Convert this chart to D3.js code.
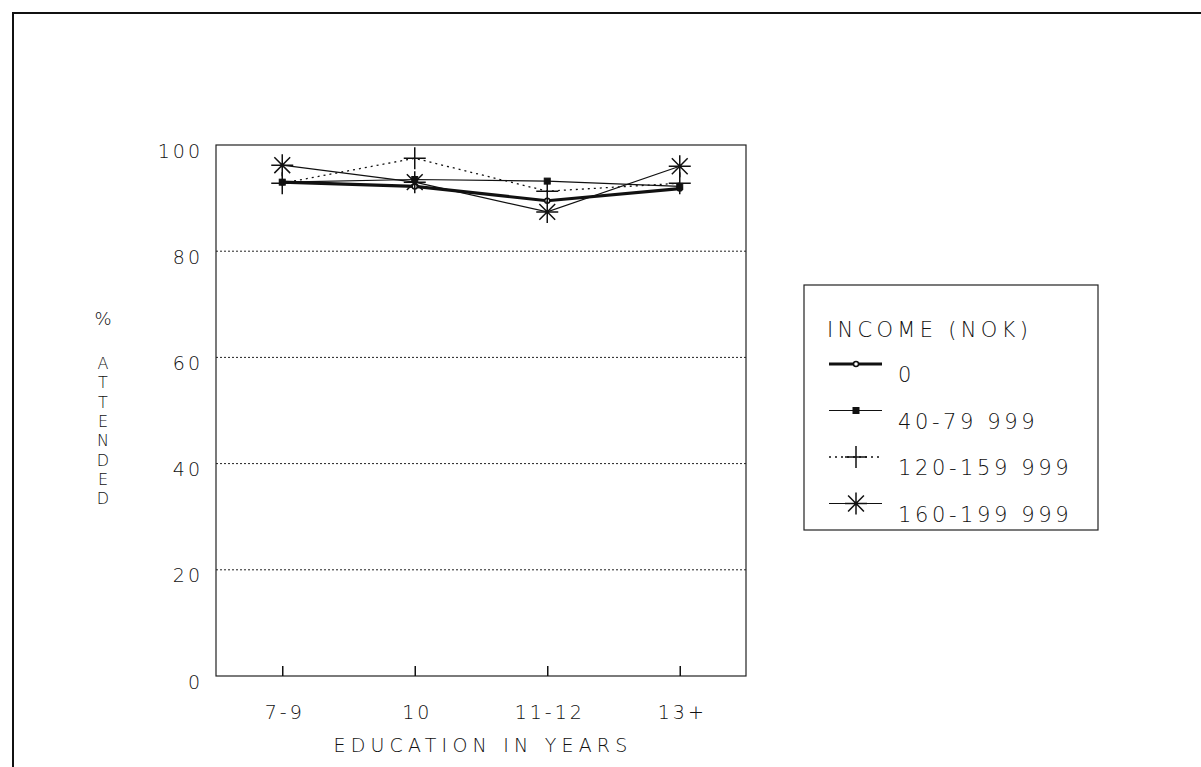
<!DOCTYPE html>
<html>
<head>
<meta charset="utf-8">
<script src="https://cdn.jsdelivr.net/npm/d3@7"></script>
<style>
  html, body { margin: 0; padding: 0; background: #fff; }
  svg { display: block; }
  text { font-family: "DejaVu Sans", sans-serif; font-weight: 200; fill: #111; }
</style>
</head>
<body>
<svg id="chart" width="1201" height="767"></svg>
<script>
// Education categories (x axis)
const categories = ["7-9", "10", "11-12", "13+"];
// Income groups (legend)
const incomeGroups = ["0", "40-79 999", "120-159 999", "160-199 999"];
// % attended per education category, one array per income group
const attendIncome0 = [93.0, 92.2, 89.5, 91.8];
const attendIncome40 = [93.0, 93.5, 93.2, 92.2];
const attendIncome120 = [92.8, 97.5, 91.3, 92.8];
const attendIncome160 = [96.2, 93.0, 87.4, 96.0];
// Y axis ticks
const yTicks = [0, 20, 40, 60, 80, 100];
const gridTicks = [20, 40, 60, 80];

const seriesValues = [attendIncome0, attendIncome40, attendIncome120, attendIncome160];

const svg = d3.select("#chart");
const plot = { left: 216, right: 746, top: 145, bottom: 676 };

const x = d3.scalePoint().domain(categories).range([plot.left, plot.right]).padding(0.5);
const y = d3.scaleLinear().domain([0, 100]).range([plot.bottom, plot.top]);

// Outer frame (top and left edges)
svg.append("path")
  .attr("d", "M13,767 L13,13 L1201,13")
  .attr("fill", "none").attr("stroke", "#111").attr("stroke-width", 2);

// Dotted gridlines
svg.append("g").selectAll("line").data(gridTicks).join("line")
  .attr("x1", plot.left).attr("x2", plot.right)
  .attr("y1", d => y(d)).attr("y2", d => y(d))
  .attr("stroke", "#222").attr("stroke-width", 1).attr("stroke-dasharray", "2,2");

// Plot frame
svg.append("rect")
  .attr("x", plot.left).attr("y", plot.top)
  .attr("width", plot.right - plot.left).attr("height", plot.bottom - plot.top)
  .attr("fill", "none").attr("stroke", "#222").attr("stroke-width", 1.2);

// Y axis
const yAxis = svg.append("g").attr("transform", `translate(${plot.left},0)`)
  .call(d3.axisLeft(y).tickValues(yTicks).tickSize(0).tickPadding(13));
yAxis.select(".domain").remove();
yAxis.selectAll("text")
  .attr("y", 6)
  .style("font-size", "19px").style("letter-spacing", "3px")
  .style("font-family", "'DejaVu Sans', sans-serif").style("font-weight", 200);

// X axis with inward ticks
const xAxis = svg.append("g").attr("transform", `translate(0,${plot.bottom})`)
  .call(d3.axisBottom(x).tickSizeInner(-10).tickSizeOuter(0).tickPadding(30));
xAxis.select(".domain").remove();
xAxis.selectAll("line").attr("stroke", "#111").attr("stroke-width", 1.5);
xAxis.selectAll("text")
  .attr("x", 2)
  .style("font-size", "19px").style("letter-spacing", "3px")
  .style("font-family", "'DejaVu Sans', sans-serif").style("font-weight", 200);

// Axis titles
svg.append("text")
  .attr("x", (plot.left + plot.right) / 2 + 2).attr("y", 752)
  .attr("text-anchor", "middle")
  .style("font-size", "19px").style("letter-spacing", "5.2px")
  .text("EDUCATION IN YEARS");

svg.append("text")
  .attr("x", 103).attr("y", 325).attr("text-anchor", "middle")
  .style("font-size", "18px").text("%");
svg.append("g").selectAll("text").data("ATTENDED".split("")).join("text")
  .attr("x", 103).attr("y", (d, i) => 369 + i * 19.3)
  .attr("text-anchor", "middle")
  .style("font-size", "16px")
  .text(d => d);

// Marker drawing helpers
function drawMarker(g, type, cx, cy) {
  if (type === "circle") {
    g.append("circle").attr("cx", cx).attr("cy", cy).attr("r", 2.5)
      .attr("fill", "#fff").attr("stroke", "#111").attr("stroke-width", 1.5);
  } else if (type === "square") {
    g.append("rect").attr("x", cx - 3).attr("y", cy - 3).attr("width", 6).attr("height", 6)
      .attr("fill", "#111").attr("stroke", "#111").attr("stroke-width", 1);
  } else if (type === "plus") {
    const r = 11;
    g.append("path").attr("d", `M${cx - r},${cy}H${cx + r}M${cx},${cy - r}V${cy + r}`)
      .attr("stroke", "#111").attr("stroke-width", 1.5).attr("fill", "none");
  } else if (type === "star") {
    const r = 11, dd = r * 0.72;
    g.append("path").attr("d",
      `M${cx - r},${cy}H${cx + r}M${cx},${cy - r}V${cy + r}` +
      `M${cx - dd},${cy - dd}L${cx + dd},${cy + dd}M${cx - dd},${cy + dd}L${cx + dd},${cy - dd}`)
      .attr("stroke", "#111").attr("stroke-width", 1.5).attr("fill", "none");
  }
}

const styles = [
  { width: 3.2, dash: null, marker: "circle" },
  { width: 1.2, dash: null, marker: "square" },
  { width: 1.3, dash: "2,4", marker: "plus" },
  { width: 1.2, dash: null, marker: "star" }
];

const line = d3.line().x((d, i) => x(categories[i])).y(d => y(d));

// Series lines and markers
seriesValues.forEach((vals, s) => {
  const st = styles[s];
  const g = svg.append("g");
  g.append("path").datum(vals).attr("d", line)
    .attr("fill", "none").attr("stroke", "#111")
    .attr("stroke-width", st.width)
    .attr("stroke-dasharray", st.dash);
  vals.forEach((v, i) => drawMarker(g, st.marker, x(categories[i]), y(v)));
});

// Legend
const legend = svg.append("g");
legend.append("rect")
  .attr("x", 804).attr("y", 285).attr("width", 294).attr("height", 245)
  .attr("fill", "none").attr("stroke", "#222").attr("stroke-width", 1.2);
legend.append("text").attr("x", 827).attr("y", 337)
  .style("font-size", "21px").style("letter-spacing", "4.3px")
  .text("INCOME (NOK)");
incomeGroups.forEach((name, i) => {
  const ly = 364 + i * 46.5;
  const st = styles[i];
  legend.append("line").attr("x1", 829).attr("x2", 882).attr("y1", ly).attr("y2", ly)
    .attr("stroke", "#111").attr("stroke-width", st.width).attr("stroke-dasharray", st.dash);
  drawMarker(legend, st.marker, 856, ly);
  legend.append("text").attr("x", 898).attr("y", ly + 18)
    .style("font-size", "21px").style("letter-spacing", "3.6px")
    .text(name);
});
</script>
</body>
</html>
